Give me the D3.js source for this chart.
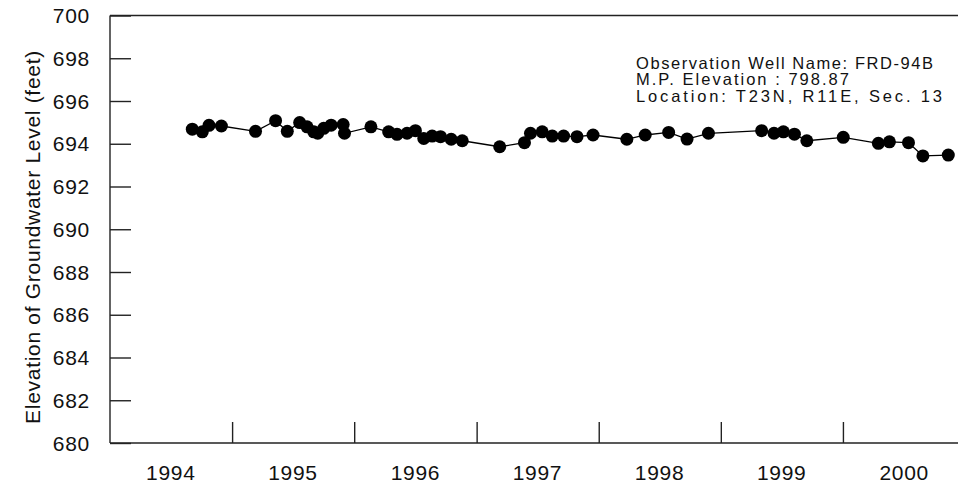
<!DOCTYPE html>
<html>
<head>
<meta charset="utf-8">
<script src="https://cdn.jsdelivr.net/npm/d3@7"></script>
<style>
  body { margin: 0; background: #fff; }
  svg { display: block; font-family: Arial, "Liberation Sans", sans-serif; }
</style>
</head>
<body>
<svg id="chart" width="959" height="487"></svg>
<script>
// measurement dates and groundwater elevations (feet)
const dates = [
  "1994-09-04", "1994-10-04", "1994-10-24", "1994-11-30",
  "1995-03-12", "1995-05-11", "1995-06-15", "1995-07-22", "1995-08-13", "1995-09-02",
  "1995-09-14", "1995-10-02", "1995-10-24", "1995-11-29", "1995-12-03",
  "1996-02-20", "1996-04-13", "1996-05-08", "1996-06-07", "1996-07-02", "1996-07-27",
  "1996-08-21", "1996-09-15", "1996-10-17", "1996-11-19",
  "1997-03-11", "1997-05-24", "1997-06-11", "1997-07-16", "1997-08-15", "1997-09-18",
  "1997-10-28", "1997-12-15",
  "1998-03-26", "1998-05-20", "1998-07-29", "1998-09-22", "1998-11-25",
  "1999-05-03", "1999-06-09", "1999-07-07", "1999-08-09", "1999-09-15",
  "2000-01-02", "2000-04-16", "2000-05-19", "2000-07-15", "2000-08-27", "2000-11-11"
];
const levels = [
  694.68, 694.56, 694.86, 694.83,
  694.58, 695.08, 694.58, 694.99, 694.79, 694.56,
  694.49, 694.72, 694.87, 694.90, 694.49,
  694.79, 694.56, 694.44, 694.49, 694.61, 694.25,
  694.36, 694.33, 694.21, 694.14,
  693.86, 694.05, 694.49, 694.56, 694.36, 694.36,
  694.33, 694.41,
  694.21, 694.41, 694.53, 694.22, 694.49,
  694.61, 694.49, 694.56, 694.45, 694.14,
  694.30, 694.02, 694.09, 694.05, 693.43, 693.47
];
const yTicks = [680, 682, 684, 686, 688, 690, 692, 694, 696, 698, 700];
const yearLabels = ["1994", "1995", "1996", "1997", "1998", "1999", "2000"];
const infoLines = [
  "Observation Well Name: FRD-94B",
  "M.P. Elevation : 798.87",
  "Location: T23N, R11E, Sec. 13"
];

const parse = d3.timeParse("%Y-%m-%d");
const data = dates.map((d, i) => ({ date: parse(d), value: levels[i] }));

const margin = { top: 15.5, right: 1, bottom: 44, left: 110 };
const width = 959 - margin.left - margin.right;
const height = 487 - margin.top - margin.bottom;

const svg = d3.select("#chart");
const g = svg.append("g")
  .attr("transform", `translate(${margin.left},${margin.top})`);

const x = d3.scaleTime()
  .domain([new Date(1994, 0, 1), new Date(2000, 11, 10)])
  .range([0, width]);
const y = d3.scaleLinear()
  .domain([680, 700])
  .range([height, 0]);

const axisColor = "#222";
const labelSize = 21;
const labelSpacing = "0.7px";

// frame: left, top, bottom
g.append("line").attr("x1", 0).attr("x2", 0).attr("y1", 0).attr("y2", height)
  .attr("stroke", axisColor).attr("stroke-width", 1.4);
g.append("line").attr("x1", 0).attr("x2", width).attr("y1", 0).attr("y2", 0)
  .attr("stroke", axisColor).attr("stroke-width", 1.4);
g.append("line").attr("x1", 0).attr("x2", width).attr("y1", height).attr("y2", height)
  .attr("stroke", axisColor).attr("stroke-width", 1.4);

// y axis: inward ticks
const yAxis = g.append("g")
  .call(d3.axisRight(y).tickValues(yTicks).tickSize(21).tickFormat(""));
yAxis.select(".domain").remove();
yAxis.selectAll("line").attr("stroke", axisColor).attr("stroke-width", 1.4);

g.selectAll(".ylab")
  .data(yTicks)
  .join("text")
  .attr("class", "ylab")
  .attr("x", -20)
  .attr("y", d => y(d))
  .attr("dy", "0.36em")
  .attr("text-anchor", "end")
  .attr("font-size", labelSize)
  .attr("letter-spacing", labelSpacing)
  .attr("fill", "#111")
  .text(d => d);

// x axis: year boundaries as inward ticks, labels at mid-year
const yearStarts = x.ticks(d3.timeYear.every(1)).filter(d => x(d) > 1);
const xAxis = g.append("g")
  .attr("transform", `translate(0,${height})`)
  .call(d3.axisTop(x).tickValues(yearStarts).tickSize(21).tickFormat(""));
xAxis.select(".domain").remove();
xAxis.selectAll("line").attr("stroke", axisColor).attr("stroke-width", 1.4);

g.selectAll(".xlab")
  .data(yearLabels)
  .join("text")
  .attr("class", "xlab")
  .attr("x", d => x(new Date(+d, 6, 2)))
  .attr("y", height + 37)
  .attr("text-anchor", "middle")
  .attr("font-size", labelSize)
  .attr("letter-spacing", labelSpacing)
  .attr("fill", "#111")
  .text(d => d);

// y axis title
svg.append("text")
  .attr("transform", `translate(40,${237}) rotate(-90)`)
  .attr("text-anchor", "middle")
  .attr("font-size", labelSize)
  .attr("letter-spacing", labelSpacing)
  .attr("fill", "#111")
  .text("Elevation of Groundwater Level (feet)");

// series line and markers
const line = d3.line()
  .x(d => x(d.date))
  .y(d => y(d.value));

g.append("path")
  .datum(data)
  .attr("fill", "none")
  .attr("stroke", "#000")
  .attr("stroke-width", 1.3)
  .attr("d", line);

g.selectAll(".pt")
  .data(data)
  .join("circle")
  .attr("class", "pt")
  .attr("cx", d => x(d.date))
  .attr("cy", d => y(d.value))
  .attr("r", 6.5)
  .attr("fill", "#000");

// well info block
const infoLengths = [297, 213, 306];
svg.selectAll(".info")
  .data(infoLines)
  .join("text")
  .attr("class", "info")
  .attr("x", 636)
  .attr("y", (d, i) => 68.5 + i * 16.6)
  .attr("font-size", 16.5)
  .attr("fill", "#111")
  .attr("textLength", (d, i) => infoLengths[i])
  .attr("lengthAdjust", "spacing")
  .text(d => d);
</script>
</body>
</html>
